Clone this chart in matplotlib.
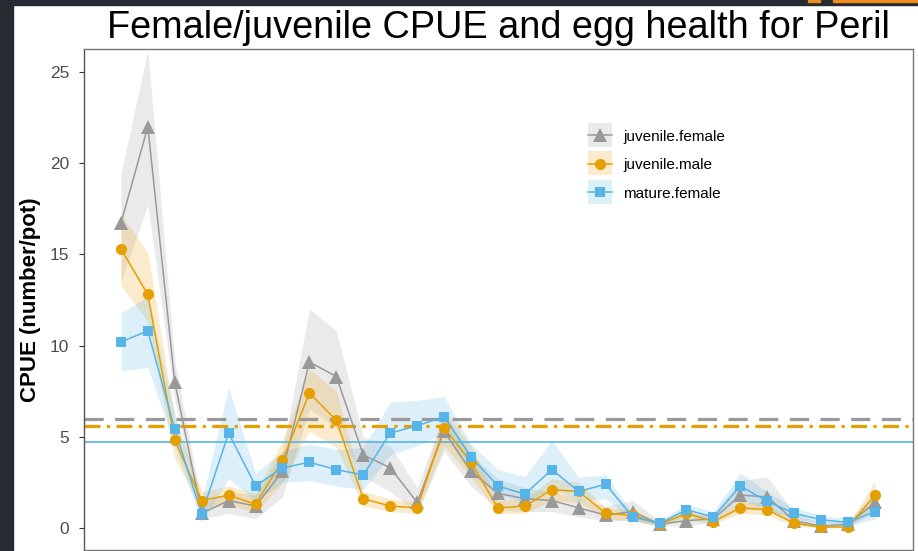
import matplotlib
matplotlib.use("Agg")
from matplotlib import pyplot as plt
from matplotlib.lines import Line2D
from matplotlib.patches import Rectangle

plt.rcParams['font.family'] = ['Liberation Sans', 'DejaVu Sans']

# sampling events (1..29)
trips = list(range(1, 30))

# juvenile.female CPUE and ribbon
juv_f = [16.7, 22.0, 8.0, 0.8, 1.5, 1.2, 3.1, 9.1, 8.3, 4.0, 3.3, 1.4, 5.3,
         3.1, 1.9, 1.6, 1.5, 1.1, 0.7, 0.9, 0.2, 0.4, 0.5, 1.8, 1.7, 0.4, 0.1, 0.2, 1.4]
juv_f_lo = [13.5, 17.7, 7.0, 0.5, 0.8, 0.5, 1.7, 6.5, 5.5, 2.8, 2.0, 0.8, 4.2,
            2.3, 1.0, 0.9, 0.9, 0.6, 0.4, 0.4, 0.1, 0.1, 0.3, 1.0, 1.0, 0.2, 0.0, 0.1, 0.8]
juv_f_hi = [19.4, 26.2, 9.2, 1.3, 2.0, 1.8, 4.2, 12.0, 10.8, 5.0, 4.5, 2.2, 6.3,
            4.0, 2.7, 2.2, 2.0, 1.6, 1.2, 1.5, 0.4, 0.7, 0.8, 2.6, 2.8, 0.8, 0.3, 0.4, 2.0]

# juvenile.male CPUE and ribbon
juv_m = [15.3, 12.8, 4.8, 1.5, 1.8, 1.3, 3.7, 7.4, 5.9, 1.6, 1.2, 1.1, 5.5,
         3.6, 1.1, 1.2, 2.1, 2.0, 0.8, 0.7, 0.2, 0.8, 0.35, 1.1, 1.0, 0.25, 0.05, 0.05, 1.8]
juv_m_lo = [13.3, 11.3, 3.8, 1.0, 1.3, 0.8, 2.5, 5.3, 4.4, 1.2, 0.9, 0.8, 4.5,
            2.8, 0.8, 0.8, 1.5, 1.4, 0.5, 0.4, 0.1, 0.5, 0.2, 0.8, 0.7, 0.1, 0.0, 0.0, 1.2]
juv_m_hi = [17.2, 15.1, 6.0, 2.0, 2.3, 1.9, 4.8, 8.7, 7.5, 2.0, 1.6, 1.4, 6.5,
            4.5, 1.5, 1.6, 2.7, 2.5, 1.1, 1.0, 0.3, 1.0, 0.5, 1.5, 1.3, 0.4, 0.1, 0.1, 2.6]

# mature.female CPUE and ribbon
mat_f = [10.2, 10.8, 5.4, 0.75, 5.2, 2.3, 3.3, 3.6, 3.2, 2.9, 5.2, 5.6, 6.1,
         3.9, 2.3, 1.85, 3.2, 2.0, 2.4, 0.6, 0.25, 1.0, 0.6, 2.3, 1.45, 0.8, 0.45, 0.3, 0.9]
mat_f_lo = [8.6, 8.8, 4.5, 0.3, 2.7, 1.5, 2.5, 2.6, 2.3, 2.1, 4.0, 4.5, 5.2,
            3.0, 1.8, 1.4, 2.2, 1.5, 1.6, 0.4, 0.1, 0.7, 0.4, 1.6, 1.0, 0.5, 0.2, 0.1, 0.5]
mat_f_hi = [11.8, 12.7, 6.3, 1.5, 7.7, 3.0, 4.2, 4.6, 4.3, 4.4, 6.9, 7.0, 7.2,
            4.6, 3.2, 2.8, 4.8, 2.8, 2.9, 0.8, 0.4, 1.3, 0.9, 3.0, 2.0, 1.1, 0.7, 0.5, 1.3]

# reference levels (horizontal lines)
ref_juv_f = 5.96
ref_juv_m = 5.61
ref_mat_f = 4.70

series = [
    ('juvenile.female', juv_f, juv_f_lo, juv_f_hi, '#999999', '^', 10.0),
    ('juvenile.male', juv_m, juv_m_lo, juv_m_hi, '#E69F00', 'o', 8.0),
    ('mature.female', mat_f, mat_f_lo, mat_f_hi, '#56B4E9', 's', 7.4),
]

fig = plt.figure(figsize=(9.18, 5.51), dpi=100)
W, H = 918, 551

def fx(px):
    return px / W

def fy(py):
    return 1 - py / H

# screenshot frame bits
fig.patches.append(Rectangle((0, 0), fx(13), 1, transform=fig.transFigure,
                             color='#262b32', zorder=-5))
fig.patches.append(Rectangle((0, fy(5)), 1, 5 / H, transform=fig.transFigure,
                             color='#262b32', zorder=-5))
fig.patches.append(Rectangle((fx(808), fy(2)), fx(12), 2 / H, transform=fig.transFigure,
                             color='#f28c1c', zorder=-4))
fig.patches.append(Rectangle((fx(833), fy(2)), fx(85), 2 / H, transform=fig.transFigure,
                             color='#f28c1c', zorder=-4))

ax = fig.add_axes([fx(84), fy(550), (913 - 84) / W, (550 - 49) / H])

for name, y, lo, hi, col, mk, ms in series:
    ax.fill_between(trips, lo, hi, color=col, alpha=0.2, linewidth=0, zorder=1)

ax.axhline(ref_juv_f, color='#999999', lw=2.3, dashes=(6, 3.6), zorder=2)
ax.axhline(ref_juv_m, color='#E69F00', lw=2.3, dashes=(5, 2, 1, 2), zorder=2)
ax.axhline(ref_mat_f, color='#56B4E9', lw=1.2, zorder=2)

for name, y, lo, hi, col, mk, ms in series:
    ax.plot(trips, y, color=col, lw=1.1, zorder=3)
    ax.plot(trips, y, linestyle='none', marker=mk, markersize=ms,
            color=col, markeredgewidth=0, zorder=4)

ax.set_xlim(1 - 1.37, 29 + 1.41)
ax.set_ylim(-1.21, 26.26)
ax.set_yticks([0, 5, 10, 15, 20, 25])
ax.set_xticks(trips[::2])
ax.set_xticklabels([])
ax.tick_params(axis='y', labelsize=12.5, labelcolor='#4d4d4d', color='#333333',
               length=3.6, width=0.8, pad=7)
ax.tick_params(axis='x', color='#333333', length=3.6, width=0.8)
for sp in ax.spines.values():
    sp.set_color('#777777')
    sp.set_linewidth(1.0)
ax.spines['left'].set_color('#555555')

ax.set_ylabel('CPUE (number/pot)', fontsize=16, fontweight='bold')
ax.yaxis.set_label_coords(fx(41), fy(300), transform=fig.transFigure)

fig.text(fx(498), fy(38), 'Female/juvenile CPUE and egg health for Peril',
         fontsize=27.3, ha='center', va='baseline')

# legend, drawn like ggplot keys: shaded square, line and point
for i, (name, y, lo, hi, col, mk, ms) in enumerate(series):
    cy = 135 + 28.5 * i
    fig.patches.append(Rectangle((fx(588), fy(cy + 12)), fx(24), 24 / H,
                                 transform=fig.transFigure, facecolor=col,
                                 alpha=0.2, edgecolor='none'))
    fig.add_artist(Line2D([fx(588), fx(612)], [fy(cy), fy(cy)], transform=fig.transFigure,
                          color=col, lw=1.1))
    fig.add_artist(Line2D([fx(600)], [fy(cy)], transform=fig.transFigure, color=col,
                          marker=mk, markersize=ms, markeredgewidth=0, linestyle='none'))
    fig.text(fx(623), fy(cy), name, fontsize=11, ha='left', va='center_baseline')

fig.savefig('out.png', dpi=100)
